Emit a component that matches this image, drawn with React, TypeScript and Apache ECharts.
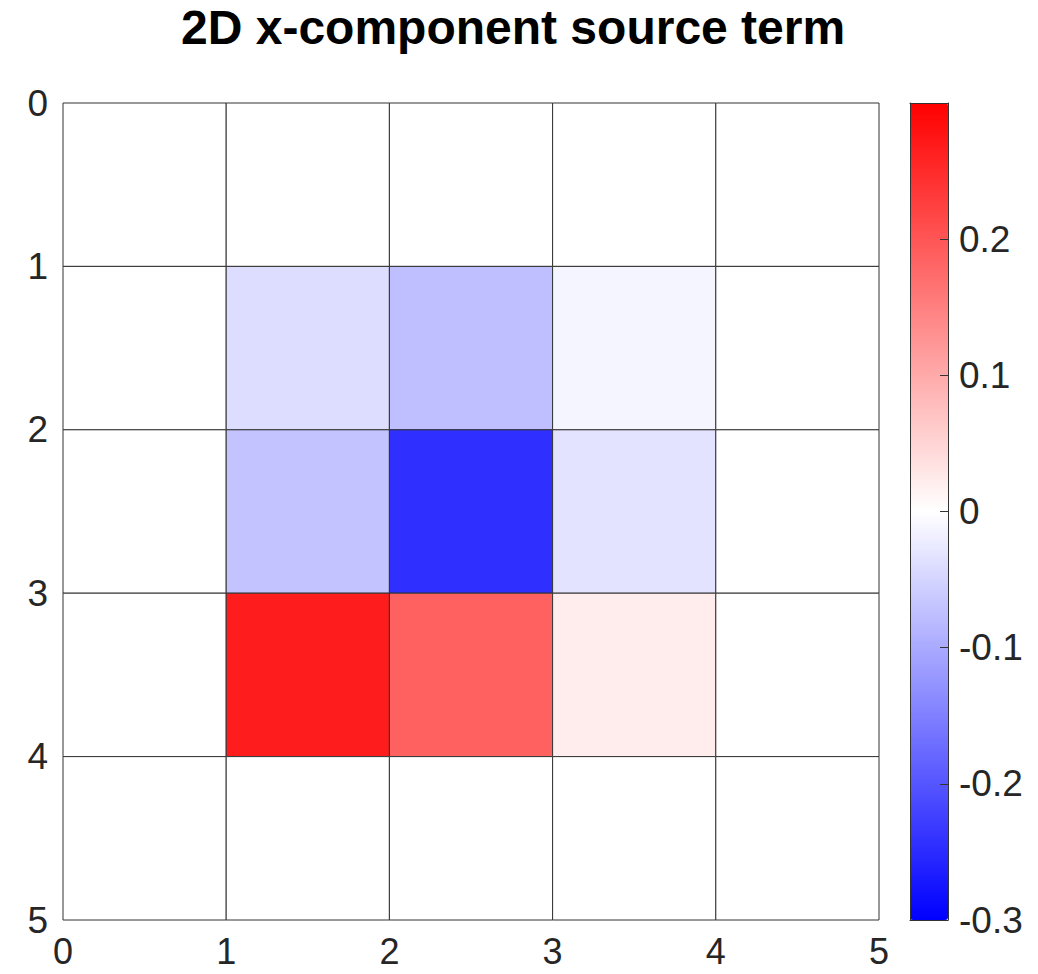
import React, { useEffect, useRef } from "react";
import * as echarts from "echarts";

const titleText = "2D x-component source term";
const xTicks = [0, 1, 2, 3, 4, 5];
const yTicks = [0, 1, 2, 3, 4, 5];
const colorTicks = [-0.3, -0.2, -0.1, 0, 0.1, 0.2];
const colorMin = -0.3;
const colorMax = 0.3;
// cell values, row r spans y in [r, r+1], column c spans x in [c, c+1]
const row0 = [0, 0, 0, 0, 0];
const row1 = [0, -0.04, -0.075, -0.012, 0];
const row2 = [0, -0.07, -0.245, -0.033, 0];
const row3 = [0, 0.267, 0.186, 0.022, 0];
const row4 = [0, 0, 0, 0, 0];
const rows = [row0, row1, row2, row3, row4];

const FONT = "'Liberation Sans', Arial, Helvetica, sans-serif";
const TXT = "#262626";
const EDGE = "#333333";

export default function App() {
  const ref = useRef<HTMLDivElement>(null);
  useEffect(() => {
    if (!ref.current) return;
    const chart = echarts.init(ref.current, null, { renderer: "svg" });
    const data: number[][] = [];
    rows.forEach((row, r) => row.forEach((v, c) => data.push([c, r, v])));

    const gL = 63, gT = 103, gW = 816, gH = 817;
    const cL = 910, cW = 38;

    chart.setOption({
      animation: false,
      backgroundColor: "#ffffff",
      title: {
        text: titleText,
        left: 181,
        top: 3,
        padding: 0,
        textStyle: { fontFamily: FONT, fontSize: 48, fontWeight: "bold", color: "#000" },
      },
      grid: [
        { left: gL, top: gT, width: gW, height: gH, containLabel: false },
        { left: cL, top: gT, width: cW, height: gH, containLabel: false },
      ],
      xAxis: [
        {
          type: "value", gridIndex: 0, min: 0, max: 5, interval: 1, position: "bottom",
          axisLine: { show: false }, axisTick: { show: false }, splitLine: { show: false },
          axisLabel: { fontFamily: FONT, fontSize: 36, color: TXT, margin: 13,
            formatter: (v: number) => (xTicks.includes(v) ? String(v) : "") },
        },
        {
          type: "value", gridIndex: 1, min: 0, max: 1, position: "bottom", z: 10,
          axisLine: { show: true, onZero: false, lineStyle: { color: EDGE, width: 1 } },
          axisTick: { show: false }, axisLabel: { show: false }, splitLine: { show: false },
        },
        {
          type: "value", gridIndex: 1, min: 0, max: 1, position: "top", z: 10,
          axisLine: { show: true, onZero: false, lineStyle: { color: EDGE, width: 1 } },
          axisTick: { show: false }, axisLabel: { show: false }, splitLine: { show: false },
        },
      ],
      yAxis: [
        {
          type: "value", gridIndex: 0, min: 0, max: 5, interval: 1, inverse: true,
          axisLine: { show: false }, axisTick: { show: false }, splitLine: { show: false },
          axisLabel: { fontFamily: FONT, fontSize: 37, color: TXT, margin: 15,
            formatter: (v: number) => (yTicks.includes(v) ? String(v) : "") },
        },
        {
          type: "value", gridIndex: 1, min: colorMin, max: colorMax, interval: 0.1,
          position: "right", z: 10,
          axisLine: { show: true, onZero: false, lineStyle: { color: EDGE, width: 1 } },
          axisTick: { show: true, inside: true, length: 8, lineStyle: { color: EDGE } },
          splitLine: { show: false },
          axisLabel: {
            fontFamily: FONT, fontSize: 37, color: TXT, margin: 11,
            formatter: (v: number) => {
              const r = Math.round(v * 10) / 10;
              return colorTicks.some((t) => Math.abs(t - r) < 1e-9) ? String(r) : "";
            },
          },
        },
        {
          type: "value", gridIndex: 1, min: colorMin, max: colorMax, position: "left", z: 10,
          axisLine: { show: true, onZero: false, lineStyle: { color: EDGE, width: 1 } },
          axisTick: { show: false }, axisLabel: { show: false }, splitLine: { show: false },
        },
      ],
      visualMap: {
        type: "continuous",
        min: colorMin,
        max: colorMax,
        dimension: 2,
        seriesIndex: 0,
        orient: "vertical",
        left: cL,
        top: gT,
        padding: 0,
        itemWidth: cW,
        itemHeight: gH,
        calculable: false,
        text: null,
        showLabel: false,
        z: 1,
        inRange: { color: ["#0000ff", "#ffffff", "#ff0000"] },
      },
      series: [
        {
          type: "custom",
          xAxisIndex: 0,
          yAxisIndex: 0,
          encode: { x: 0, y: 1 },
          data,
          renderItem: (params: any, api: any) => {
            const x = api.value(0);
            const y = api.value(1);
            const p0 = api.coord([x, y]);
            const p1 = api.coord([x + 1, y + 1]);
            return {
              type: "rect",
              shape: {
                x: Math.min(p0[0], p1[0]),
                y: Math.min(p0[1], p1[1]),
                width: Math.abs(p1[0] - p0[0]),
                height: Math.abs(p1[1] - p0[1]),
              },
              style: { fill: api.visual("color"), stroke: EDGE, lineWidth: 1 },
            };
          },
        },
      ],
    });
    return () => chart.dispose();
  }, []);
  return (
    <div
      ref={ref}
      style={{ position: "fixed", left: 0, top: 0, width: 1038, height: 974, background: "#fff" }}
    />
  );
}
